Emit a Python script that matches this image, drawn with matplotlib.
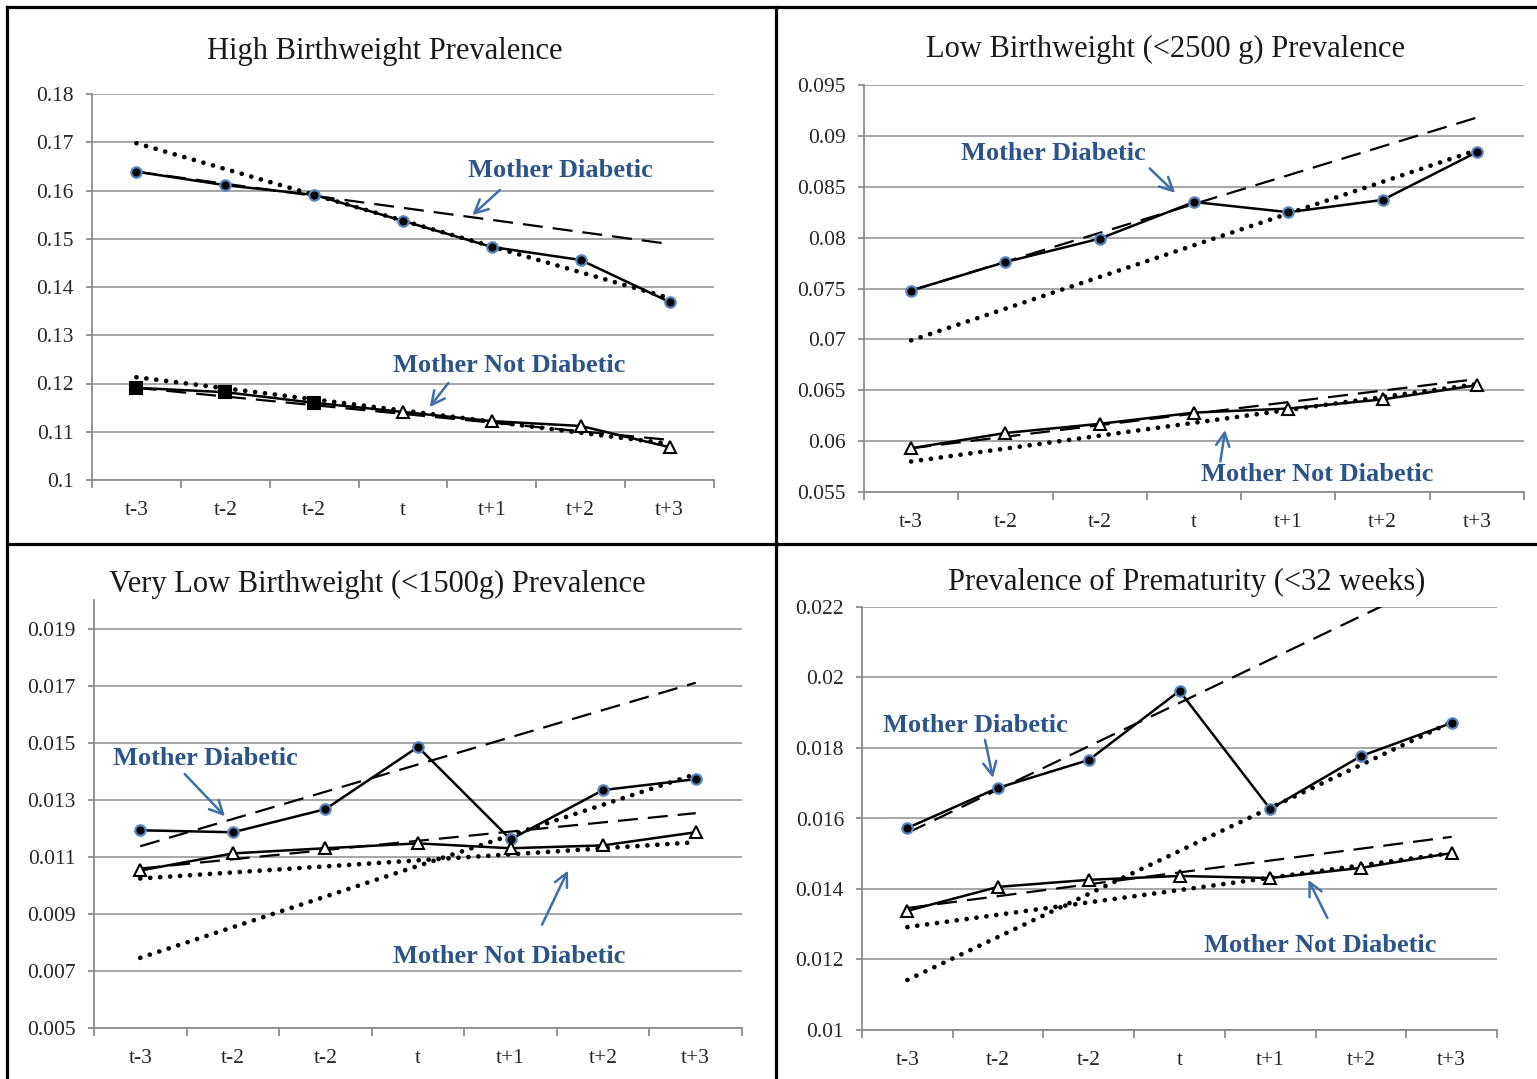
import matplotlib
matplotlib.use('Agg')
import matplotlib.pyplot as plt
from matplotlib.lines import Line2D
from matplotlib.ticker import FuncFormatter

plt.rcParams['font.family'] = ['Liberation Serif', 'DejaVu Serif']

labels = ["t-3", "t-2", "t-2", "t", "t+1", "t+2", "t+3"]

# High birthweight
hb_md = [0.1639, 0.1611, 0.1591, 0.1537, 0.1483, 0.1456, 0.1369]
hb_mnd = [0.1191, 0.1182, 0.1160, 0.1141, 0.1122, 0.1112, 0.1068]
hb_md_dash = [0.1639, 0.1489]
hb_md_dot = [0.1698, 0.1377]
hb_mnd_dash = [0.1191, 0.1083]
hb_mnd_dot = [0.1213, 0.1075]

# Low birthweight
lb_md = [0.0748, 0.0776, 0.0799, 0.0835, 0.0825, 0.0837, 0.0884]
lb_mnd = [0.0593, 0.0608, 0.0617, 0.0628, 0.0632, 0.0641, 0.0655]
lb_md_dash = [0.0748, 0.0918]
lb_md_dot = [0.0699, 0.0886]
lb_mnd_dash = [0.0593, 0.0661]
lb_mnd_dot = [0.0580, 0.0656]

# Very low birthweight
vl_md = [0.01193, 0.01186, 0.01267, 0.01485, 0.01161, 0.01334, 0.01372]
vl_mnd = [0.01052, 0.01112, 0.01130, 0.01147, 0.01130, 0.01140, 0.01186]
vl_md_dash = [0.01137, 0.01710]
vl_md_dot = [0.00746, 0.01390]
vl_mnd_dash = [0.01059, 0.01253]
vl_mnd_dot = [0.01024, 0.01151]

# Prematurity
pm_md = [0.01573, 0.01687, 0.01766, 0.01962, 0.01627, 0.01777, 0.01871]
pm_mnd = [0.01338, 0.01406, 0.01426, 0.01437, 0.01431, 0.01460, 0.01502]
pm_md_dash = [0.01559, 0.02297]
pm_md_dot = [0.01142, 0.01874]
pm_mnd_dash = [0.01346, 0.01548]
pm_mnd_dot = [0.01292, 0.01502]

W, H = 1537, 1079
fig = plt.figure(figsize=(15.37, 10.79), dpi=100)

TXT = '#2c5489'
ARR = '#3f6fa6'
GRID = '#a6a6a6'


def rect(l, r, t, b):
    return [l / W, 1 - b / H, (r - l) / W, (b - t) / H]


def draw(ax, md, mnd, md_dash, md_dot, mnd_dash, mnd_dot, ylim, yticks, filled_n=0):
    x = list(range(7))
    ax.set_xlim(-0.5, 6.5)
    ax.set_ylim(*ylim)
    ax.set_yticks(yticks)
    ax.yaxis.set_major_formatter(FuncFormatter(lambda v, p: '%g' % round(v, 6)))
    ax.yaxis.grid(True, color=GRID, lw=1.4)
    ax.set_axisbelow(True)
    for s in ['top', 'right']:
        ax.spines[s].set_visible(False)
    for s in ['left', 'bottom']:
        ax.spines[s].set_color('#8c8c8c')
        ax.spines[s].set_linewidth(1.3)
    ax.set_xticks(x)
    ax.set_xticklabels(labels)
    ax.set_xticks([i - 0.5 for i in range(8)], minor=True)
    ax.tick_params(axis='x', which='major', length=0, pad=15, labelsize=15.5, labelcolor='#262626')
    ax.tick_params(axis='x', which='minor', length=6, color='#8c8c8c', width=1.3)
    ax.tick_params(axis='y', length=4, color='#8c8c8c', width=1.3, pad=9, labelsize=15.5,
                   labelcolor='#262626')

    ends = [0, 6]
    dot = dict(color='black', lw=3.4, linestyle=(0, (0.01, 2.1)), dash_capstyle='round', zorder=2)
    dash = dict(color='black', lw=1.6, linestyle=(0, (9, 4.5)), zorder=2)
    ax.plot(ends, md_dash, **dash)
    ax.plot(ends, mnd_dash, **dash)
    ax.plot(ends, md_dot, **dot)
    ax.plot(ends, mnd_dot, **dot)

    ax.plot(x, md, color='black', lw=1.8, marker='o', markersize=7.5, markerfacecolor='black',
            markeredgecolor='#5b86c0', markeredgewidth=1.6, zorder=4)
    ax.plot(x, mnd, color='black', lw=1.8, zorder=4)
    ax.plot(x[filled_n:], mnd[filled_n:], ls='none', marker='^', markersize=9,
            markerfacecolor='white', markeredgecolor='black', markeredgewidth=1.5, zorder=5)
    if filled_n:
        ax.plot(x[:filled_n], mnd[:filled_n], ls='none', marker='s', markersize=8,
                markerfacecolor='black', markeredgecolor='black', markeredgewidth=1.5, zorder=5)


def note(ax, text, pos, start, tip):
    ax.text(pos[0], pos[1], text, color=TXT, fontsize=19, fontweight='bold',
            ha='center', va='center', zorder=6)
    ax.annotate('', xy=tip, xytext=start,
                arrowprops=dict(arrowstyle='->', color=ARR, lw=1.8, mutation_scale=24,
                                shrinkA=0, shrinkB=0), zorder=6)


ax1 = fig.add_axes(rect(92, 714, 94, 480))
draw(ax1, hb_md, hb_mnd, hb_md_dash, hb_md_dot, hb_mnd_dash, hb_mnd_dot,
     (0.10, 0.18), [0.10, 0.11, 0.12, 0.13, 0.14, 0.15, 0.16, 0.17, 0.18], filled_n=3)
note(ax1, 'Mother Diabetic', (4.77, 0.1642), (4.09, 0.1601), (3.78, 0.1549))
note(ax1, 'Mother Not Diabetic', (4.20, 0.1238), (3.51, 0.1201), (3.30, 0.1151))

ax2 = fig.add_axes(rect(864, 1524, 85, 492))
draw(ax2, lb_md, lb_mnd, lb_md_dash, lb_md_dot, lb_mnd_dash, lb_mnd_dot,
     (0.055, 0.095), [0.055, 0.06, 0.065, 0.07, 0.075, 0.08, 0.085, 0.09, 0.095])
note(ax2, 'Mother Diabetic', (1.51, 0.0883), (2.53, 0.0868), (2.80, 0.0844))
note(ax2, 'Mother Not Diabetic', (4.31, 0.0567), (3.28, 0.0580), (3.33, 0.0611))

ax3 = fig.add_axes(rect(94, 742, 600, 1028))
draw(ax3, vl_md, vl_mnd, vl_md_dash, vl_md_dot, vl_mnd_dash, vl_mnd_dot,
     (0.005, 0.020), [0.005, 0.007, 0.009, 0.011, 0.013, 0.015, 0.017, 0.019])
note(ax3, 'Mother Diabetic', (0.70, 0.01443), (0.48, 0.01390), (0.915, 0.01242))
note(ax3, 'Mother Not Diabetic', (3.98, 0.00750), (4.34, 0.00862), (4.62, 0.01052))

ax4 = fig.add_axes(rect(862, 1497, 607, 1030))
draw(ax4, pm_md, pm_mnd, pm_md_dash, pm_md_dot, pm_mnd_dash, pm_mnd_dot,
     (0.01, 0.022), [0.01, 0.012, 0.014, 0.016, 0.018, 0.02, 0.022])
note(ax4, 'Mother Diabetic', (0.746, 0.01865), (0.856, 0.01823), (0.944, 0.01715))
note(ax4, 'Mother Not Diabetic', (4.55, 0.01241), (4.63, 0.01318), (4.42, 0.01426))

titles = [("High Birthweight Prevalence", 385, 51),
          ("Low Birthweight (<2500 g) Prevalence", 1166, 49),
          ("Very Low Birthweight (<1500g) Prevalence", 377, 584),
          ("Prevalence of Prematurity (<32 weeks)", 1187, 582)]
for t, px, py in titles:
    fig.text(px / W, 1 - py / H, t, fontsize=22, ha='center', va='center', color='#1a1a1a')

# panel borders
bw = 2.3
fig.add_artist(Line2D([7 / W, 1], [1 - 7 / H, 1 - 7 / H], color='black', lw=bw))
fig.add_artist(Line2D([7 / W, 7 / W], [0, 1 - 7 / H], color='black', lw=bw))
fig.add_artist(Line2D([776 / W, 776 / W], [0, 1 - 7 / H], color='black', lw=bw))
fig.add_artist(Line2D([7 / W, 1], [1 - 544 / H, 1 - 544 / H], color='black', lw=bw))

fig.savefig('out.png', dpi=100)
